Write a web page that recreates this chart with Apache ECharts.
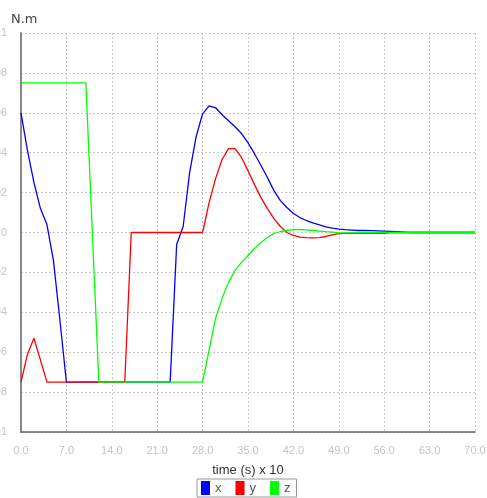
<!DOCTYPE html>
<html>
<head>
<meta charset="utf-8">
<script src="https://cdn.jsdelivr.net/npm/echarts@6/dist/echarts.min.js"></script>
<style>
  html, body { margin: 0; padding: 0; background: #fff; }
  #main { width: 487px; height: 498px; }
</style>
</head>
<body>
<div id="main"></div>
<script>
// torque x
let xTime = [0, 1, 2, 3, 4, 5, 6, 7, 23, 24, 25, 26, 27, 28, 29, 30, 31, 32, 33, 34, 35, 36, 37, 38, 39, 40,
  41, 42, 43, 44, 45, 46, 47, 48, 49, 50, 51, 52, 53, 54, 55, 56, 57, 58, 59, 60, 70];
let xVals = [0.06, 0.041, 0.025, 0.012, 0.004, -0.014, -0.044, -0.075, -0.075, -0.006, 0.003, 0.03, 0.048,
  0.0595, 0.0635, 0.0625, 0.059, 0.056, 0.053, 0.0496, 0.045, 0.0395, 0.0336, 0.0276, 0.021, 0.016,
  0.0125, 0.0095, 0.0075, 0.006, 0.0048, 0.0038, 0.0028, 0.0022, 0.0017, 0.0014, 0.0012, 0.001, 0.001,
  0.0009, 0.0008, 0.0007, 0.0006, 0.0004, 0.0002, 0, 0];
// torque y
let yTime = [0, 1, 2, 3, 4, 16, 17, 28, 29, 30, 31, 32, 33, 34, 35, 36, 37, 38, 39, 40, 41, 42, 43, 44, 45,
  46, 47, 48, 49, 50, 56, 57, 70];
let yVals = [-0.075, -0.061, -0.053, -0.064, -0.075, -0.075, 0, 0, 0.015, 0.027, 0.0366, 0.042, 0.042,
  0.0376, 0.031, 0.024, 0.0175, 0.012, 0.007, 0.003, 0, -0.0015, -0.0023, -0.0026, -0.0027, -0.0026,
  -0.002, -0.0012, -0.0006, -0.0004, -0.0004, 0, 0];
// torque z
let zTime = [0, 10, 12, 28, 29, 30, 31, 32, 33, 34, 35, 36, 37, 38, 39, 40, 41, 42, 43, 44, 45, 46, 47,
  48, 49, 50, 55, 70];
let zVals = [0.075, 0.075, -0.075, -0.075, -0.059, -0.043, -0.033, -0.025, -0.019, -0.015, -0.0115, -0.008,
  -0.005, -0.0025, -0.0005, 0.0005, 0.001, 0.0014, 0.0015, 0.0013, 0.001, 0.0007, 0.0004, 0.0002,
  -0.0002, -0.0002, 0, 0];

function pairs(t, v) {
  return t.map((tt, i) => [tt, v[i]]);
}

let myChart = echarts.init(document.getElementById('main'));
myChart.setOption({
  animation: false,
  title: {
    text: 'N.m',
    left: 6,
    top: 8,
    textStyle: { fontSize: 13, fontWeight: 'normal', color: '#444', fontFamily: 'DejaVu Sans' }
  },
  legend: {
    data: ['x', 'y', 'z'],
    left: 197,
    bottom: 1,
    icon: 'rect',
    itemWidth: 9,
    itemHeight: 14,
    itemGap: 14,
    padding: [2, 6, 2, 4],
    borderColor: '#999',
    borderWidth: 1,
    textStyle: { fontSize: 13, color: '#555' }
  },
  grid: {
    left: 21,
    right: 12,
    top: 33,
    bottom: 66,
    containLabel: false,
    outerBoundsMode: 'none'
  },
  xAxis: {
    type: 'value',
    min: 0,
    max: 70,
    interval: 7,
    name: 'time (s) x 10',
    nameLocation: 'middle',
    nameGap: 32,
    nameTextStyle: { fontSize: 13, color: '#333' },
    axisLine: { onZero: false, lineStyle: { color: '#666', width: 1.5 } },
    axisTick: { show: false },
    axisLabel: {
      margin: 13,
      fontSize: 11,
      color: '#c4c4c4',
      formatter: (v) => v.toFixed(1)
    },
    splitLine: { lineStyle: { color: '#c8c8c8', type: [2, 2] } }
  },
  yAxis: {
    type: 'value',
    min: -0.1,
    max: 0.1,
    interval: 0.02,
    axisLine: { show: true, onZero: false, lineStyle: { color: '#888', width: 2 } },
    axisTick: { show: false },
    axisLabel: { margin: 14, fontSize: 11, color: '#c4c4c4' },
    splitLine: { lineStyle: { color: '#c8c8c8', type: [2, 2] } }
  },
  series: [
    {
      name: 'x',
      type: 'line',
      showSymbol: false,
      color: '#0000ff',
      lineStyle: { width: 1.3 },
      data: pairs(xTime, xVals)
    },
    {
      name: 'y',
      type: 'line',
      showSymbol: false,
      color: '#ff0000',
      lineStyle: { width: 1.3 },
      data: pairs(yTime, yVals)
    },
    {
      name: 'z',
      type: 'line',
      showSymbol: false,
      color: '#00ff00',
      lineStyle: { width: 1.3 },
      data: pairs(zTime, zVals)
    }
  ]
});
window.onresize = myChart.resize;
</script>
</body>
</html>
